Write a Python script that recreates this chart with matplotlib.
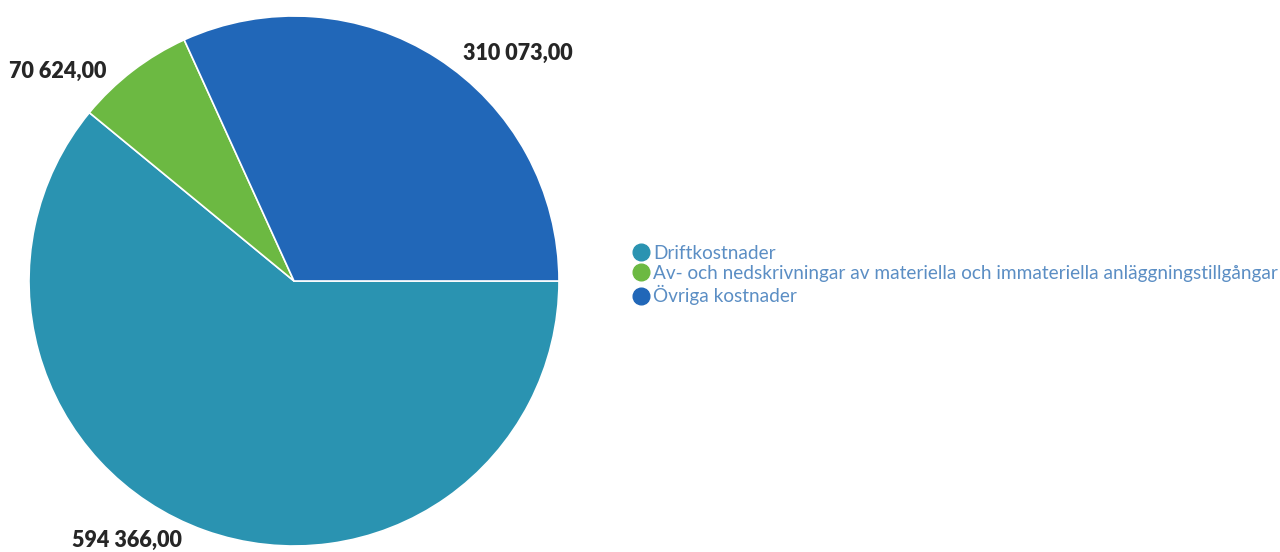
import matplotlib

matplotlib.use("Agg")
import matplotlib.pyplot as plt
from matplotlib.lines import Line2D

categories = [
    "Driftkostnader",
    "Av- och nedskrivningar av materiella och immateriella anläggningstillgångar",
    "Övriga kostnader",
]
values = [594366.00, 70624.00, 310073.00]
value_labels = ["594 366,00", "70 624,00", "310 073,00"]
colors = ["#2a93b1", "#6cb942", "#2167b8"]

# label anchor points (data coords of the unit pie)
label_pos = [(-0.63, -0.98), (-0.89, 0.79), (0.845, 0.86)]

fig = plt.figure(figsize=(12.8, 5.52), dpi=100)
W, H = 1280, 552
cx, cy, r = 294, 281, 265
ax = fig.add_axes([(cx - r) / W, (H - cy - r) / H, 2 * r / W, 2 * r / H])

ax.pie(
    values,
    colors=colors,
    startangle=0,
    counterclock=False,
    radius=1,
    wedgeprops=dict(edgecolor="white", linewidth=1.2),
)
ax.set_xlim(-1, 1)
ax.set_ylim(-1, 1)
ax.set_aspect("equal")
ax.axis("off")

for txt, (x, y) in zip(value_labels, label_pos):
    ax.text(x, y, txt, ha="center", va="center", fontsize=15.5,
            fontweight="heavy", family=["Lato", "DejaVu Sans"], color="#262626",
            clip_on=False)

handles = [Line2D([0], [0], marker="o", linestyle="none", markersize=12,
                  markerfacecolor=c, markeredgecolor=c) for c in colors]
fig.legend(handles, categories, loc="center left",
           bbox_to_anchor=(631 / W, 1 - 275 / H), frameon=False,
           prop=dict(family=["Lato", "DejaVu Sans"], size=13.7),
           labelcolor="#5b8ec4", handletextpad=0.15, labelspacing=0.18,
           handlelength=1.0, borderpad=0, borderaxespad=0)

fig.savefig("out.png", dpi=100)
